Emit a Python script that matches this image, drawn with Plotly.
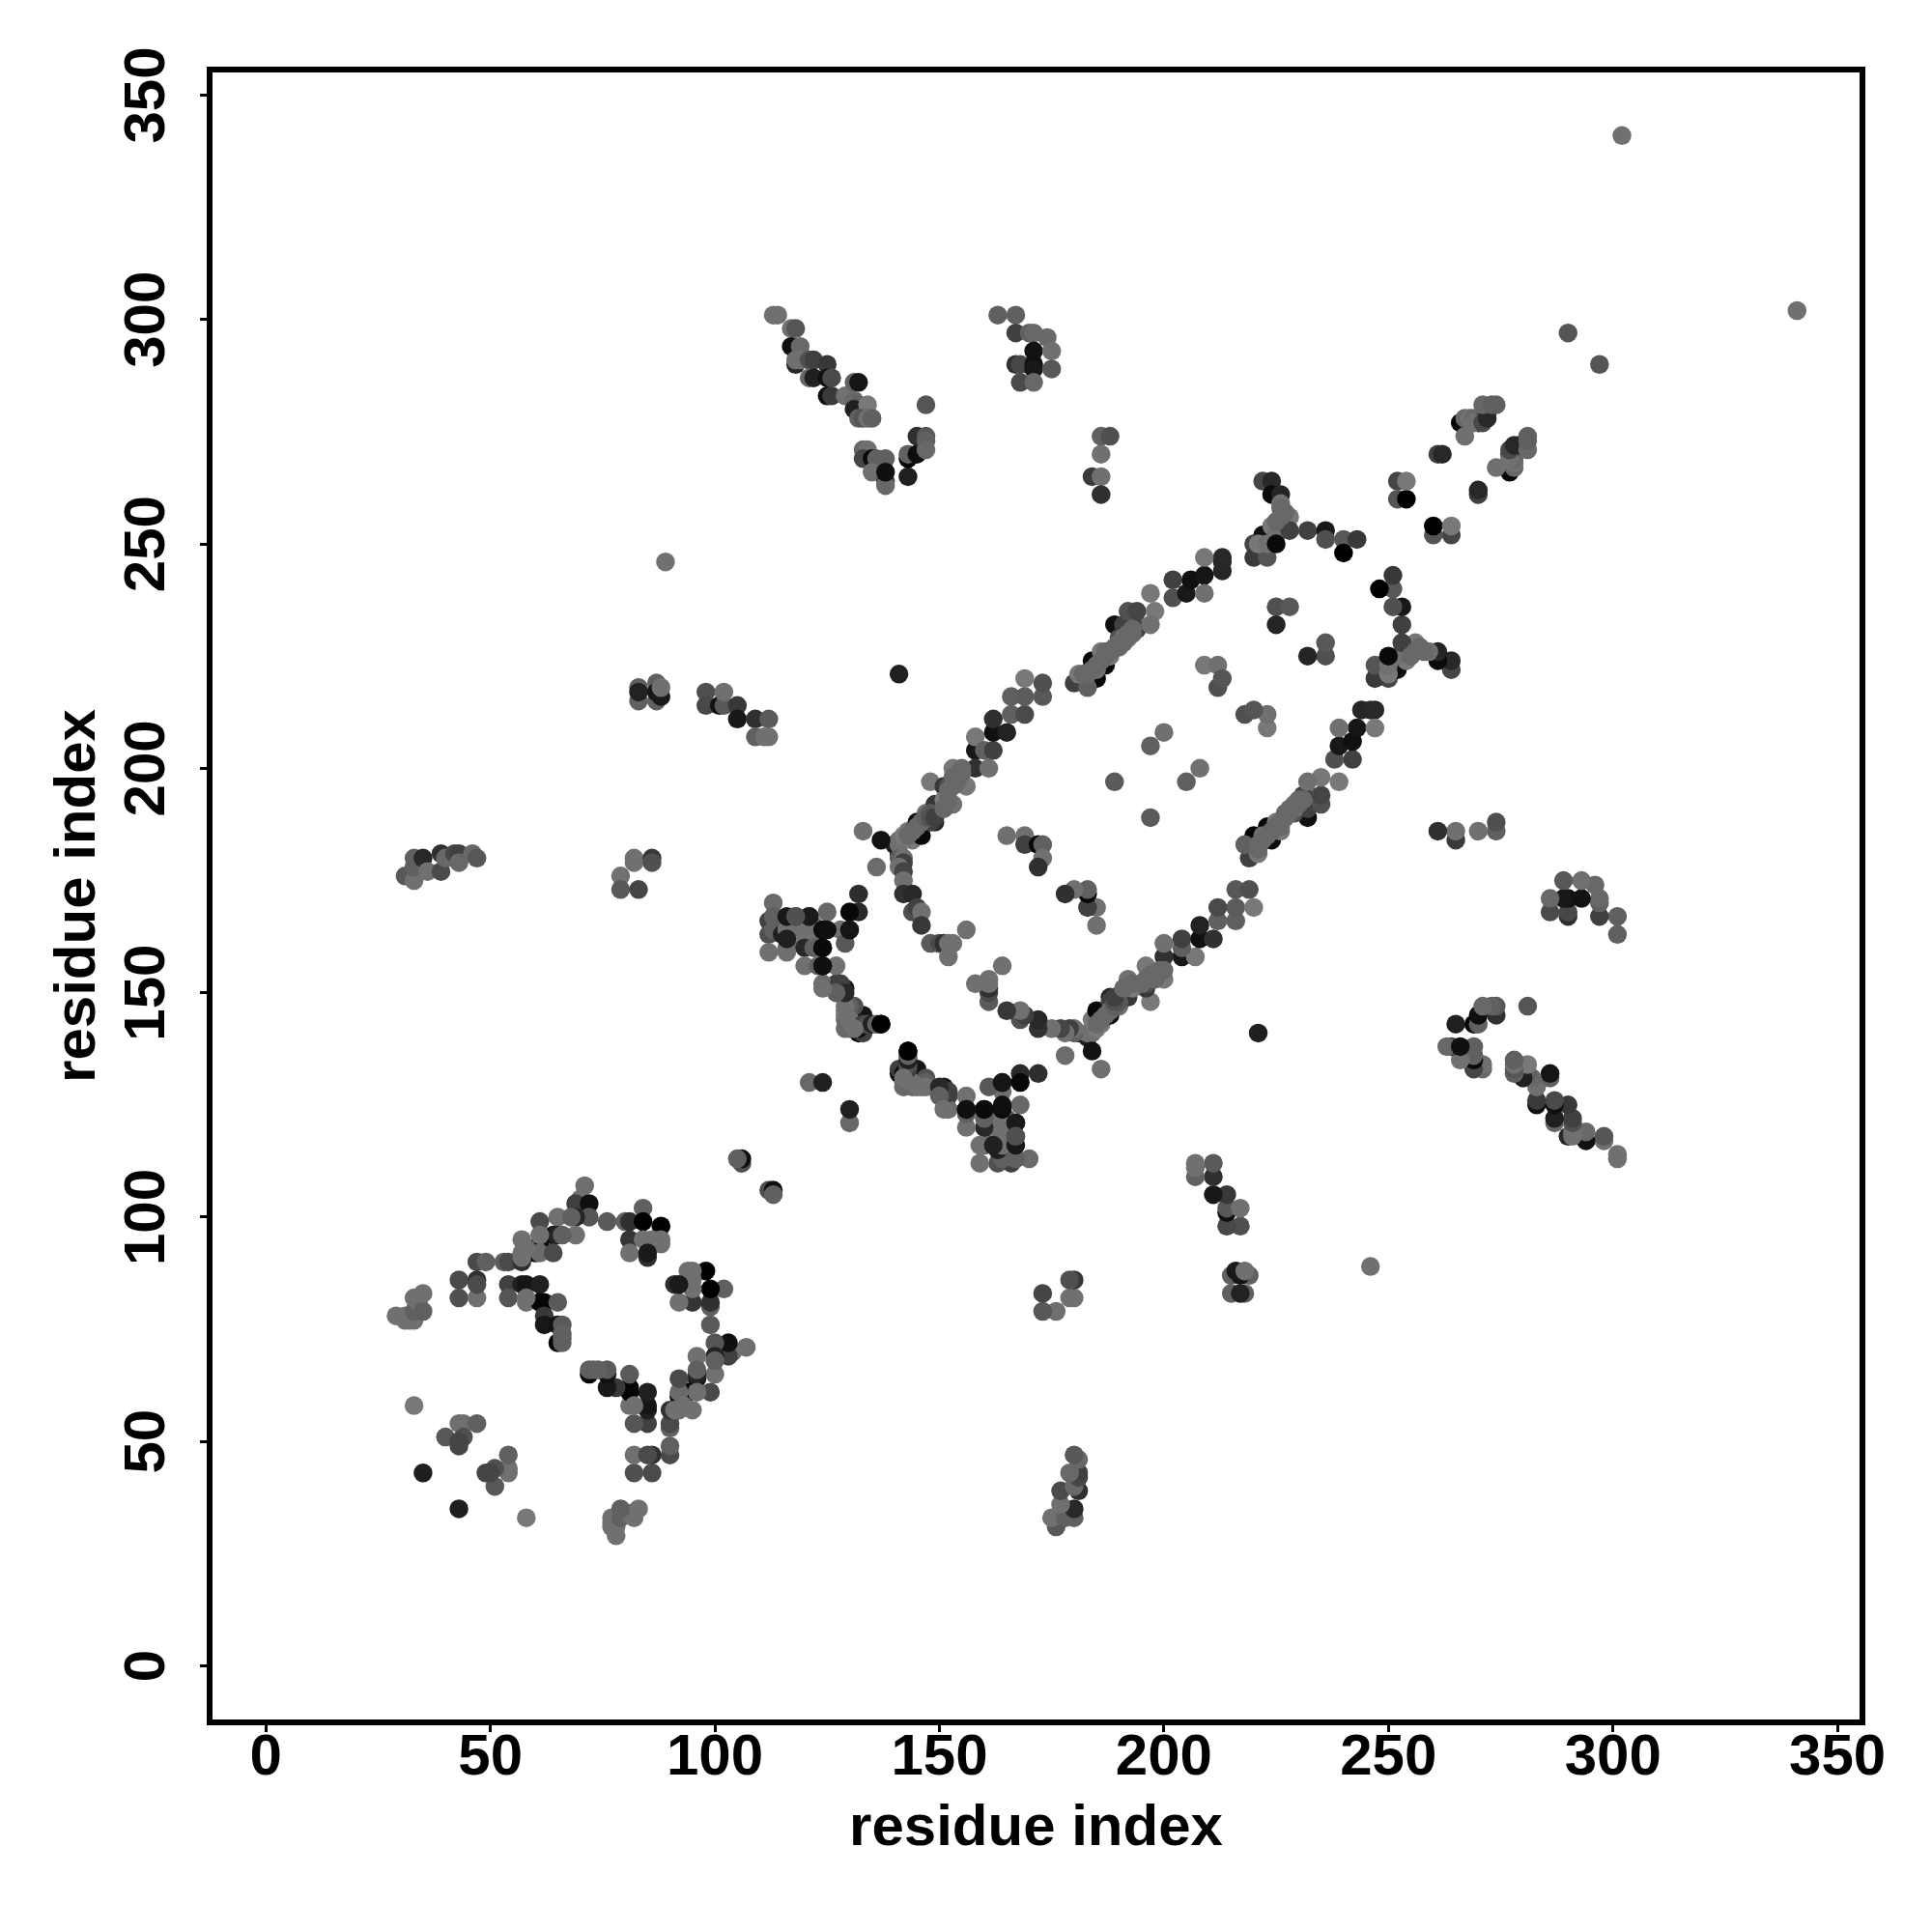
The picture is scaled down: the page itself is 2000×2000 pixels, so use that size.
import plotly.graph_objects as go

# Contacts above the diagonal, (residue i, residue j, grey level); the map is symmetric.
ring_n_i = [84,71,70,69,72,72,69,65,68,61,76,80,81,84,88,81,84,86,88,88,81,85,85,64,65,61,61,69,66,57,60,57,61,64,58,47,49,53,54,57,57,43,47,43,47,47,54,54,57,58,61,58,61,62,65,58,62,62,65,66,65,66,66,66]
ring_n_j = [102,107,104,103,103,100,100,100,100,99,99,99,99,99,98,95,95,95,95,94,92,91,92,96,96,94,96,96,96,95,92,92,92,92,93,90,90,90,90,90,91,86,86,82,82,85,85,82,85,85,85,81,81,81,81,82,78,76,76,76,72,72,73,74]
ring_n_g = [0x60,0x6e,0x70,0x40,0x10,0x55,0x25,0x70,0x60,0x4a,0x5a,0x60,0x30,0x00,0x00,0x35,0x70,0x70,0x70,0x70,0x70,0x30,0x1a,0x1a,0x25,0x0a,0x70,0x70,0x60,0x70,0x05,0x70,0x6a,0x4a,0x70,0x4a,0x60,0x60,0x4a,0x30,0x70,0x4a,0x30,0x50,0x70,0x4a,0x40,0x55,0x20,0x15,0x20,0x70,0x05,0x05,0x5a,0x70,0x38,0x18,0x10,0x5a,0x05,0x60,0x60,0x60]

far_n_i = [29,31,31,32,33,33,34,33,35,35,33,43,44,47,40,44,43,43,35]
far_n_j = [78,77,78,77,77,79,81,82,79,83,58,54,54,54,51,51,50,49,43]
far_n_g = [0x70,0x70,0x70,0x70,0x70,0x60,0x70,0x70,0x60,0x70,0x78,0x70,0x70,0x60,0x58,0x50,0x45,0x45,0x1f]

loop_fill_i = [114,115,118,119,120,122,123,130,130,131,132,129,129,130,130]
loop_fill_j = [165,166,162,162,164,165,163,146,145,144,144,144,142,142,143]
loop_fill_g = [0x68,0x60,0x68,0x68,0x68,0x68,0x68,0x68,0x60,0x68,0x30,0x68,0x68,0x68,0x68]

loop_i = [132,137,133,124,124,130,132,130,129,127,129,132,133,121,124,125,116,116,121,118,113,112,113,112,112,113,116,115,117,118,121,125,128,130,129,120,122,124,120,123,124,127,124,127,128,131,130,129,129,129,127,124,130,133,134,135,136,131,137,121,124,106,106,121,118,119,116,116,105]
loop_j = [141,143,141,156,164,168,168,164,151,152,146,142,145,167,160,164,167,162,167,167,170,166,167,163,159,164,160,163,163,164,164,168,164,164,161,160,160,160,156,156,156,156,152,151,152,147,147,145,147,150,150,151,144,143,143,143,143,142,143,130,130,112,113,164,167,164,164,159,113]
loop_g = [0x08,0x00,0x40,0x10,0x0a,0x08,0x2a,0x15,0x18,0x40,0x70,0x10,0x15,0x1a,0x0a,0x10,0x18,0x20,0x1a,0x45,0x6a,0x40,0x60,0x50,0x70,0x60,0x68,0x20,0x78,0x78,0x70,0x68,0x70,0x15,0x58,0x28,0x60,0x0a,0x70,0x60,0x10,0x70,0x6c,0x38,0x40,0x50,0x60,0x70,0x70,0x28,0x60,0x70,0x70,0x40,0x50,0x20,0x60,0x70,0x00,0x68,0x20,0x50,0x10,0x70,0x50,0x70,0x70,0x70,0x60]

arc_left_i = [141,140,141,141,142,142,141,142,142,142,144,144,145,146,146,148,150,151,152,152,153,156,141,142,143,144,146]
arc_left_j = [181,183,183,180,180,179,178,177,175,172,172,168,169,168,165,161,161,161,161,158,161,164,184,185,186,184,185]
arc_left_g = [0x20,0x20,0x70,0x60,0x70,0x40,0x70,0x45,0x70,0x30,0x28,0x50,0x40,0x70,0x38,0x5a,0x4a,0x30,0x70,0x70,0x70,0x70,0x70,0x78,0x78,0x78,0x08]

arc_mid_i = [145,149,149,148,147,149,148,151,152,151,153,153,154,156,158,158,158,161,160,162,162,162,165,166,169,166,169,169,173,173,132,136,133,141,137]
arc_mid_j = [188,188,190,188,190,192,197,196,196,193,192,200,198,196,204,200,207,200,204,204,208,211,208,212,212,216,216,220,216,219,172,178,186,221,184]
arc_mid_g = [0x10,0x28,0x20,0x40,0x70,0x38,0x78,0x38,0x50,0x78,0x70,0x78,0x70,0x78,0x18,0x30,0x78,0x70,0x60,0x40,0x10,0x30,0x22,0x60,0x4a,0x60,0x5c,0x78,0x58,0x50,0x2e,0x6c,0x70,0x20,0x12]

arc_top_i = [185,184,187,189,180,181,183,185,186,188,191,190,191,192,194,194,192,194,197,198,197,202,202,205,206,209,209,213,213,209,220,220,223,222,221,223,224,225,225,222,224,224,226,226,228,228,232,236,236,240,243,240,213]
arc_top_j = [220,224,223,232,219,221,218,222,226,225,232,229,229,229,232,231,235,235,239,235,232,242,238,239,242,243,239,244,247,247,250,247,247,252,250,250,254,252,250,264,264,261,261,259,256,253,253,253,251,251,251,248,246]
arc_top_g = [0x05,0x0a,0x0a,0x10,0x40,0x78,0x60,0x70,0x78,0x78,0x40,0x50,0x78,0x78,0x70,0x40,0x50,0x45,0x78,0x78,0x70,0x40,0x50,0x18,0x10,0x15,0x70,0x25,0x28,0x78,0x45,0x3a,0x55,0x10,0x78,0x70,0x78,0x70,0x0a,0x45,0x28,0x0a,0x25,0x70,0x78,0x40,0x40,0x18,0x50,0x58,0x38,0x00,0x28]

arc_fill_i = [143,144,145,146,147,148,148,149,151,152,152,153,153,154,155,155,182,183,184,185,186,187,187,188,189,190,190,191,192,193,193,225,226,227,226]
arc_fill_j = [185,186,187,188,189,190,189,189,191,193,195,196,198,197,199,200,221,221,222,223,224,225,226,226,227,227,228,228,230,230,231,255,256,257,258]
arc_fill_g = [0x68,0x68,0x68,0x68,0x60,0x58,0x50,0x40,0x68,0x68,0x68,0x68,0x68,0x68,0x68,0x68,0x68,0x68,0x68,0x68,0x68,0x68,0x68,0x68,0x68,0x68,0x68,0x68,0x68,0x68,0x68,0x68,0x68,0x68,0x68]

inner_i = [165,169,169,172,173,173,172,189,197,200,209,212,212,213,225,228,225]
inner_j = [185,185,183,183,183,180,178,197,205,208,223,223,218,220,236,236,232]
inner_g = [0x70,0x70,0x40,0x08,0x60,0x70,0x30,0x5a,0x60,0x70,0x78,0x70,0x50,0x55,0x50,0x58,0x25]

strand_a_i = [113,114,117,118,117,119,118,118,119,121,122,125,121,122,125,126,125,126,129,131,132,131,132,131,134,132,133,134,135]
strand_a_j = [301,301,298,298,294,294,290,291,291,291,291,290,287,287,287,287,283,283,283,286,286,282,281,280,281,278,278,278,278]
strand_a_g = [0x70,0x70,0x70,0x55,0x10,0x68,0x28,0x70,0x70,0x50,0x40,0x38,0x68,0x20,0x10,0x4a,0x10,0x3a,0x70,0x60,0x15,0x68,0x60,0x20,0x78,0x60,0x55,0x70,0x60]

strand_b_i = [133,134,133,135,136,138,135,138,138,138,143,143,143,145,145,147,147,147,147]
strand_b_j = [271,271,269,269,269,269,266,264,263,266,265,269,270,270,274,274,273,271,281]
strand_b_g = [0x68,0x70,0x45,0x0a,0x60,0x60,0x70,0x40,0x68,0x10,0x20,0x08,0x60,0x0e,0x30,0x58,0x60,0x68,0x55]

strand_c_i = [163,167,167,170,171,174,171,175,167,168,171,171,175,168,171,186,188,186,184,186,186]
strand_c_j = [301,301,297,297,297,296,293,293,290,290,290,289,289,286,286,274,274,270,265,265,261]
strand_c_g = [0x60,0x60,0x40,0x60,0x68,0x68,0x12,0x70,0x30,0x48,0x10,0x18,0x58,0x4a,0x68,0x60,0x50,0x70,0x3a,0x70,0x30]

strand_d_i = [83,83,83,87,87,87,88,88,98,98,101,102,102,105,105,109,112,109,111,112,89]
strand_d_j = [218,215,217,219,215,217,216,218,217,214,214,214,217,214,211,211,211,207,207,207,246]
strand_d_g = [0x60,0x60,0x22,0x60,0x60,0x15,0x1a,0x70,0x50,0x48,0x10,0x58,0x70,0x38,0x18,0x30,0x5a,0x60,0x70,0x70,0x70]

strand_e_i = [32,31,33,33,33,35,36,39,39,40,42,43,43,46,47,82,82,86,86,79,79,83]
strand_e_j = [176,176,175,180,178,180,177,177,181,180,181,181,179,181,180,180,179,180,179,176,173,173]
strand_e_g = [0x15,0x58,0x70,0x60,0x60,0x28,0x70,0x4a,0x30,0x68,0x48,0x40,0x68,0x68,0x58,0x70,0x70,0x38,0x50,0x70,0x58,0x45]

end_i = [252,252,254,254,261,262,266,267,268,269,270,269,271,272,272,267,271,273,274,290,302]
end_j = [264,260,260,264,270,270,277,278,278,278,277,277,277,279,278,274,281,281,281,297,341]
end_g = [0x45,0x55,0x00,0x78,0x40,0x28,0x08,0x68,0x70,0x68,0x28,0x70,0x48,0x40,0x28,0x70,0x68,0x60,0x60,0x55,0x70]

# Pairs whose dark dots sit on top of their neighbours in the picture.
on_top_i = [116,121,118,116,124,125,124,124,130,137,130]
on_top_j = [167,167,167,162,164,164,160,156,164,143,168]

tick_values = [0, 50, 100, 150, 200, 250, 300, 350]
axis_label = "residue index"

res_i = (ring_n_i + far_n_i + loop_fill_i + loop_i + arc_left_i + arc_mid_i + arc_top_i + arc_fill_i + inner_i
         + strand_a_i + strand_b_i + strand_c_i + strand_d_i + strand_e_i + end_i)
res_j = (ring_n_j + far_n_j + loop_fill_j + loop_j + arc_left_j + arc_mid_j + arc_top_j + arc_fill_j + inner_j
         + strand_a_j + strand_b_j + strand_c_j + strand_d_j + strand_e_j + end_j)
grey = (ring_n_g + far_n_g + loop_fill_g + loop_g + arc_left_g + arc_mid_g + arc_top_g + arc_fill_g + inner_g
        + strand_a_g + strand_b_g + strand_c_g + strand_d_g + strand_e_g + end_g)
assert len(res_i) == len(res_j) == len(grey)

raised = set(zip(on_top_i, on_top_j))
order = sorted(range(len(grey)), key=lambda k: (res_i[k], res_j[k]) in raised)
xs = [res_i[k] for k in order]
ys = [res_j[k] for k in order]
colours = [f"rgb({grey[k]},{grey[k]},{grey[k]})" for k in order]

fig = go.Figure(go.Scatter(
    x=xs + ys, y=ys + xs, mode="markers",
    marker=dict(size=19.5, color=colours + colours, line=dict(width=0)),
    hoverinfo="skip", cliponaxis=False,
))
font_tick = dict(family="Liberation Sans", size=60, color="black", weight=700)
axis_common = dict(
    tickmode="array", tickvals=tick_values, ticks="outside", ticklen=7, tickwidth=3,
    tickcolor="black", showline=True, linewidth=6, linecolor="black", mirror=True,
    showgrid=False, zeroline=False, tickfont=font_tick,
)
fig.update_xaxes(range=[-11.88, 354.92], tickangle=0, ticklabelstandoff=-28,
                 title=dict(text=axis_label, font=font_tick, standoff=21), **axis_common)
fig.update_yaxes(range=[-11.94, 355.06], tickangle=-90, ticklabelstandoff=13, ticklabelshift=9,
                 title=dict(text=axis_label, font=font_tick, standoff=0), **axis_common)
fig.update_layout(
    width=2000, height=2000, autosize=False, paper_bgcolor="white", plot_bgcolor="white",
    margin=dict(l=211.5, r=82.5, t=66.5, b=227.5, autoexpand=False), showlegend=False,
)
fig.write_html("out.html")
